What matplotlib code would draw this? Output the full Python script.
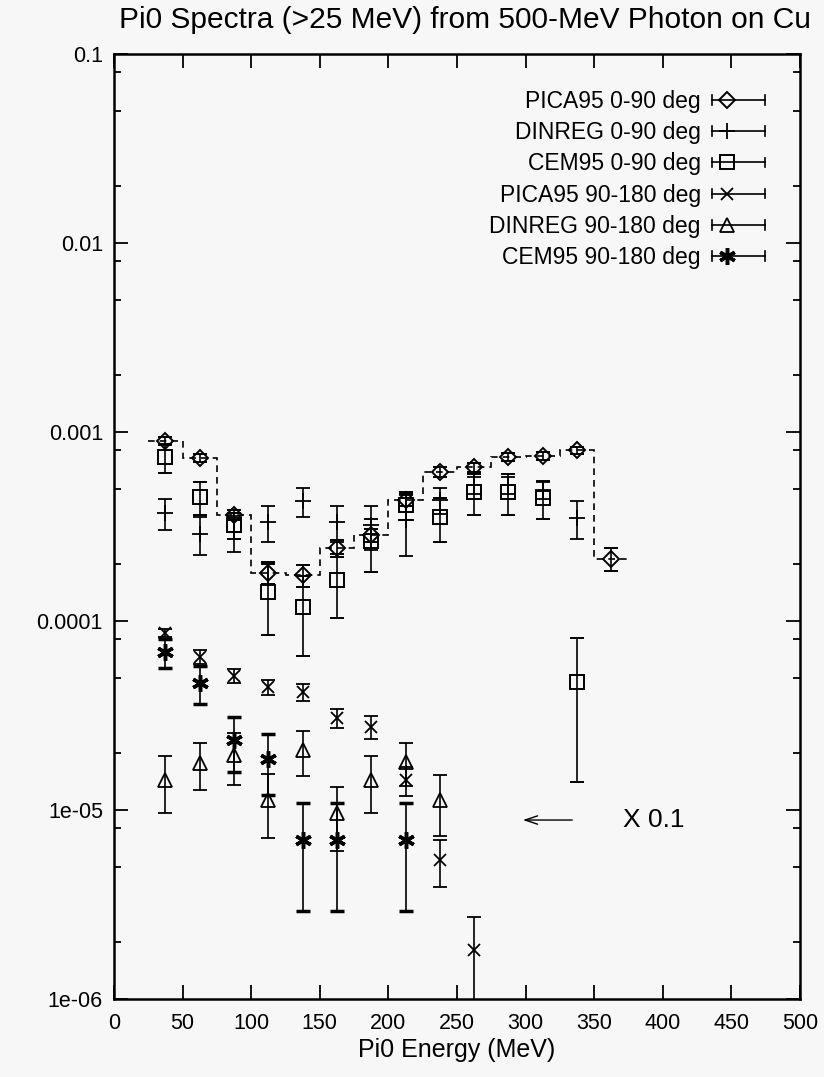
import numpy as np
import matplotlib
matplotlib.use("Agg")
import matplotlib.pyplot as plt
from matplotlib.lines import Line2D
from matplotlib.legend_handler import HandlerBase
from matplotlib.ticker import FixedLocator, FixedFormatter, LogLocator, NullFormatter

plt.rcParams['font.family'] = ['Liberation Sans', 'DejaVu Sans']

# ---------------- data ----------------
title = "Pi0 Spectra (>25 MeV) from 500-MeV Photon on Cu"
xlabel = "Pi0 Energy (MeV)"

bin_edges = [25, 50, 75, 100, 125, 150, 175, 200, 225, 250, 275, 300, 325, 350, 375]

E_pica_fwd = [37.5, 62.5, 87.5, 112.5, 137.5, 162.5, 187.5, 212.5, 237.5, 262.5, 287.5, 312.5, 337.5, 362.5]
pica_fwd = [8.96e-4, 7.3e-4, 3.64e-4, 1.80e-4, 1.75e-4, 2.43e-4, 2.85e-4, 4.37e-4, 6.14e-4, 6.53e-4,
            7.38e-4, 7.47e-4, 8.03e-4, 2.13e-4]
pica_fwd_err = [4.5e-5, 3.5e-5, 2.2e-5, 2.4e-5, 2.4e-5, 2.4e-5, 2.3e-5, 3.0e-5, 3.5e-5, 3.5e-5,
                3.5e-5, 3.5e-5, 3.5e-5, 3.0e-5]

E_dinreg_fwd = [37.5, 62.5, 87.5, 112.5, 137.5, 162.5, 187.5, 212.5, 237.5, 262.5, 287.5, 312.5, 337.5]
dinreg_fwd = [3.73e-4, 2.89e-4, 2.96e-4, 3.34e-4, 4.31e-4, 3.34e-4, 3.22e-4, 3.42e-4, 4.37e-4, 5.25e-4,
              5.25e-4, 4.93e-4, 3.5e-4]
dinreg_fwd_err = [7e-5, 6.5e-5, 6.5e-5, 7.2e-5, 7.5e-5, 7.2e-5, 8.4e-5, 1.2e-4, 7e-5, 5.5e-5,
                  5.5e-5, 5e-5, 8e-5]

E_cem_fwd = [37.5, 62.5, 87.5, 112.5, 137.5, 162.5, 187.5, 212.5, 237.5, 262.5, 287.5, 312.5, 337.5]
cem_fwd = [7.38e-4, 4.53e-4, 3.22e-4, 1.42e-4, 1.19e-4, 1.65e-4, 2.65e-4, 4.11e-4, 3.55e-4, 4.82e-4,
           4.82e-4, 4.48e-4, 4.75e-5]
cem_fwd_err = [1.3e-4, 9e-5, 5e-5, 5.8e-5, 5.4e-5, 6.1e-5, 8.3e-5, 7e-5, 9.3e-5, 1.18e-4,
               1.18e-4, 1.0e-4, 3.35e-5]

E_pica_bwd = [37.5, 62.5, 87.5, 112.5, 137.5, 162.5, 187.5, 212.5, 237.5, 262.5]
pica_bwd = [8.65e-5, 6.45e-5, 5.12e-5, 4.48e-5, 4.21e-5, 3.07e-5, 2.75e-5, 1.44e-5, 5.43e-6, 1.82e-6]
pica_bwd_err = [4.3e-6, 5.5e-6, 4.5e-6, 4.0e-6, 4.3e-6, 3.5e-6, 3.8e-6, 2.5e-6, 1.5e-6, 0.9e-6]

E_dinreg_bwd = [37.5, 62.5, 87.5, 112.5, 137.5, 162.5, 187.5, 212.5, 237.5]
dinreg_bwd = [1.44e-5, 1.77e-5, 1.95e-5, 1.13e-5, 2.07e-5, 9.64e-6, 1.44e-5, 1.8e-5, 1.13e-5]
dinreg_bwd_err = [4.8e-6, 5e-6, 6e-6, 4.2e-6, 5.5e-6, 3.6e-6, 4.8e-6, 4.6e-6, 4e-6]

E_cem_bwd = [37.5, 62.5, 87.5, 112.5, 137.5, 162.5, 212.5]
cem_bwd = [6.86e-5, 4.7e-5, 2.34e-5, 1.86e-5, 6.93e-6, 6.93e-6, 6.93e-6]
cem_bwd_err = [1.2e-5, 1.06e-5, 7.6e-6, 6.6e-6, 4e-6, 4e-6, 4e-6]

labels = ["PICA95 0-90 deg", "DINREG 0-90 deg", "CEM95 0-90 deg",
          "PICA95 90-180 deg", "DINREG 90-180 deg", "CEM95 90-180 deg"]

xticks = [0, 50, 100, 150, 200, 250, 300, 350, 400, 450, 500]
yticks = [1e-6, 1e-5, 1e-4, 1e-3, 1e-2, 1e-1]
ytick_labels = ["1e-06", "1e-05", "0.0001", "0.001", "0.01", "0.1"]

scale_note = "X 0.1"
note_arrow_x = [296, 336]   # head, tail (MeV)
note_y = 8.85e-6
note_text_x = 371

# ---------------- figure ----------------
bg = '#f7f7f7'
fig = plt.figure(figsize=(8.24, 10.77), dpi=100, facecolor=bg)
ax = fig.add_axes([114/824, 1 - 999/1077, 686/824, 945/1077], facecolor=bg)
ax.set_yscale('log')
ax.set_xlim(0, 500)
ax.set_ylim(1e-6, 0.1)

# dashed step histogram
ax.stairs(pica_fwd, bin_edges, baseline=None, color='k', lw=1.2, linestyle=(0, (4, 3)))

eb_kw = dict(ecolor='k', elinewidth=1.2, capsize=4.7, capthick=1.3, linestyle='none', color='k')

series = [
    (E_pica_fwd, pica_fwd, pica_fwd_err, dict(marker='D', ms=8, mfc='none', mew=1.4)),
    (E_dinreg_fwd, dinreg_fwd, dinreg_fwd_err, dict(marker='+', ms=12, mew=1.3)),
    (E_cem_fwd, cem_fwd, cem_fwd_err, dict(marker='s', ms=10, mfc='none', mew=1.4)),
    (E_pica_bwd, pica_bwd, pica_bwd_err, dict(marker='x', ms=9, mew=1.3)),
    (E_dinreg_bwd, dinreg_bwd, dinreg_bwd_err, dict(marker='^', ms=10, mfc='none', mew=1.3)),
    (E_cem_bwd, cem_bwd, cem_bwd_err, dict(marker=(6, 2, 0), ms=12, mew=2.5)),
]

handles = []
for (xs, ys, es, mk), lab in zip(series, labels):
    ax.errorbar(xs, ys, yerr=es, mec='k', **mk, **eb_kw)
    handles.append(Line2D([], [], color='k', lw=1.2, mec='k', **mk))


class GnuErrHandler(HandlerBase):
    def create_artists(self, legend, orig_handle, xdescent, ydescent, width, height, fontsize, trans):
        y = height / 2 - ydescent
        x0, x1 = -xdescent, width - xdescent
        c = height * 0.3
        arts = [Line2D([x0, x1], [y, y], color='k', lw=1.2, transform=trans),
                Line2D([x0, x0], [y - c, y + c], color='k', lw=1.2, transform=trans),
                Line2D([x1, x1], [y - c, y + c], color='k', lw=1.2, transform=trans)]
        m = Line2D([x0 + 0.28 * (x1 - x0)], [y], linestyle='none', transform=trans,
                   marker=orig_handle.get_marker(), ms=orig_handle.get_markersize(),
                   mfc=orig_handle.get_markerfacecolor(), mec='k',
                   mew=orig_handle.get_markeredgewidth())
        arts.append(m)
        return arts


leg = ax.legend(handles, labels, loc='upper right', bbox_to_anchor=(0.949, 0.962),
                frameon=False, markerfirst=False, fontsize=16.5, handlelength=2.3,
                handletextpad=0.5, labelspacing=0.36, borderpad=0, borderaxespad=0,
                handler_map={Line2D: GnuErrHandler()})

# scale note
ax.annotate("", xy=(note_arrow_x[0], note_y), xytext=(note_arrow_x[1], note_y),
            arrowprops=dict(arrowstyle='->,head_length=0.9,head_width=0.3', lw=1.0, color='k'))
ax.text(note_text_x, note_y, scale_note, fontsize=19, va='center', ha='left')

# axes / ticks
ax.xaxis.set_major_locator(FixedLocator(xticks))
ax.set_xticklabels([str(v) for v in xticks])
ax.yaxis.set_major_locator(FixedLocator(yticks))
ax.yaxis.set_major_formatter(FixedFormatter(ytick_labels))
ax.yaxis.set_minor_locator(LogLocator(base=10, subs=(2, 5, 8)))
ax.yaxis.set_minor_formatter(NullFormatter())
ax.tick_params(which='both', direction='in', top=True, right=True, color='k', width=1.3)
ax.tick_params(which='major', length=10, labelsize=15.5)
ax.tick_params(axis='x', which='major', pad=10)
ax.tick_params(axis='y', which='major', pad=8)
ax.tick_params(which='minor', length=5)
for s in ax.spines.values():
    s.set_linewidth(1.8)

ax.set_xlabel(xlabel, fontsize=18, labelpad=3)
fig.text(465/824, 1 - 20/1077, title, fontsize=21.5, ha='center', va='center')

fig.savefig('out.png', dpi=100, facecolor=bg)
